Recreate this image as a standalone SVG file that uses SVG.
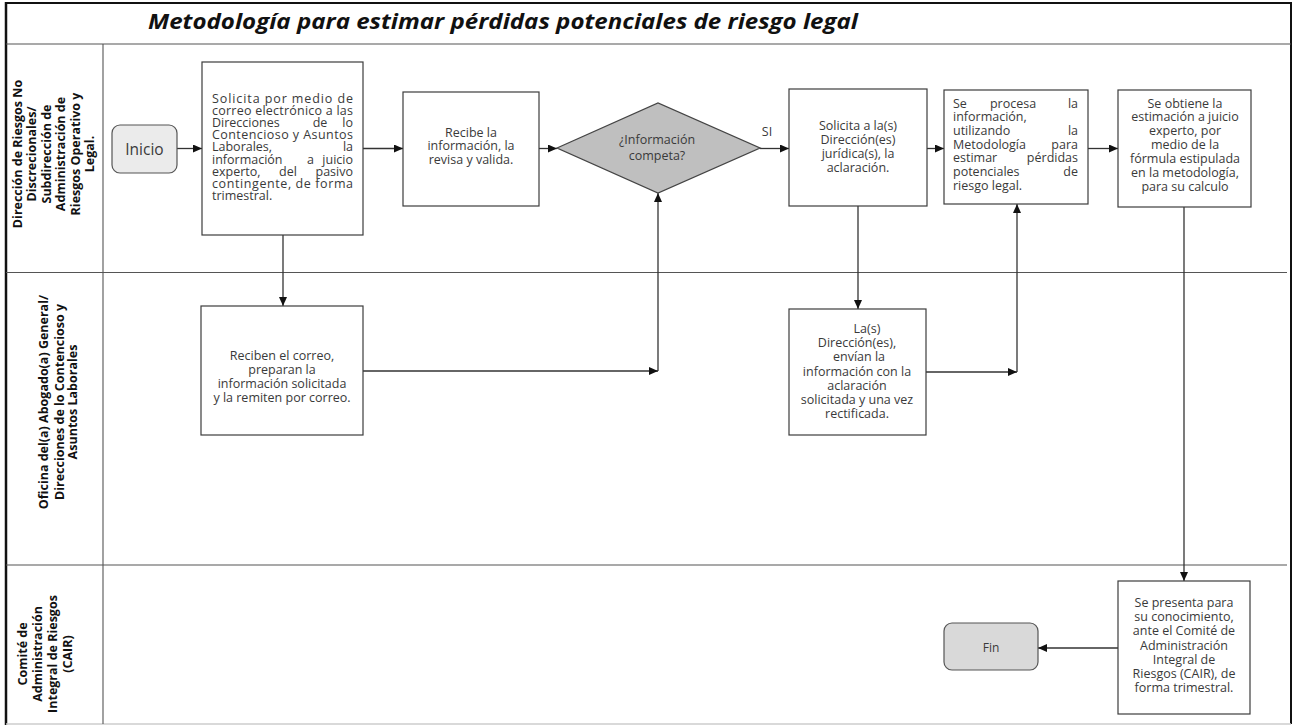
<svg xmlns="http://www.w3.org/2000/svg" width="1294" height="728" viewBox="0 0 1294 728">
<style>
.box{fill:#fff;stroke:#3c3c3c;stroke-width:1.2}
.t{font-family:"Open Sans","Liberation Sans",sans-serif;font-size:12.5px;fill:#3a3a3a}
.c{text-anchor:middle}
.e{text-anchor:end}
.lane{font-family:"Open Sans","Liberation Sans",sans-serif;font-weight:700;font-size:12.5px;fill:#111;text-anchor:middle}
.sep{stroke:#555;stroke-width:1.1;fill:none}
.conn{stroke:#333;stroke-width:1.3;fill:none;marker-end:url(#ah)}
</style>
<defs>
<marker id="ah" markerUnits="userSpaceOnUse" markerWidth="9" markerHeight="8" refX="9" refY="4" orient="auto">
<path d="M0,0 L9,4 L0,8 z" fill="#111"/>
</marker>
</defs>
<rect width="1294" height="728" fill="#fff"/>
<g id="frame">
<line x1="6" y1="3" x2="1291" y2="3" stroke="#111" stroke-width="2"/>
<line x1="6" y1="2" x2="6" y2="725" stroke="#111" stroke-width="2.5"/>
<line x1="1291" y1="2" x2="1291" y2="724" stroke="#111" stroke-width="2"/>
<line x1="6" y1="724" x2="1291" y2="724" stroke="#ccc" stroke-width="1.5"/>
<line class="sep" x1="6" y1="44" x2="1291" y2="44"/>
<line class="sep" x1="6" y1="272.5" x2="1287" y2="272.5"/>
<line class="sep" x1="6" y1="565" x2="1287" y2="565"/>
<line class="sep" x1="103" y1="44" x2="103" y2="724"/>
<text x="503" y="29" textLength="710" lengthAdjust="spacingAndGlyphs" style="font-family:'Open Sans','Liberation Sans',sans-serif;font-weight:700;font-style:italic;font-size:21px;fill:#111" text-anchor="middle">Metodología para estimar pérdidas potenciales de riesgo legal</text>
</g>
<g id="lane1">
<text class="lane" transform="translate(21.5,154) rotate(-90)">Dirección de Riesgos No</text>
<text class="lane" transform="translate(36,154) rotate(-90)">Discrecionales/</text>
<text class="lane" transform="translate(50.5,154) rotate(-90)">Subdirección de</text>
<text class="lane" transform="translate(65,154) rotate(-90)">Administración de</text>
<text class="lane" transform="translate(79.5,154) rotate(-90)">Riesgos Operativo y</text>
<text class="lane" transform="translate(94,154) rotate(-90)">Legal.</text>
</g>
<g id="lane2">
<text class="lane" transform="translate(48,402) rotate(-90)">Oficina del(a)  Abogado(a)  General/</text>
<text class="lane" transform="translate(63.5,402) rotate(-90)">Direcciones de  lo Contencioso y</text>
<text class="lane" transform="translate(77,402) rotate(-90)">Asuntos  Laborales</text>
</g>
<g id="lane3">
<text class="lane" transform="translate(26.5,654) rotate(-90)">Comité de</text>
<text class="lane" transform="translate(41.5,654) rotate(-90)">Administración</text>
<text class="lane" transform="translate(56.5,654) rotate(-90)">Integral de Riesgos</text>
<text class="lane" transform="translate(71.5,654) rotate(-90)">(CAIR)</text>
</g>
<g id="connectors">
<line class="conn" x1="177" y1="148.5" x2="202" y2="148.5"/>
<line class="conn" x1="363" y1="148.5" x2="403" y2="148.5"/>
<line class="conn" x1="539" y1="148.5" x2="557" y2="148.5"/>
<line class="conn" x1="760" y1="148.5" x2="789" y2="148.5"/>
<line class="conn" x1="927" y1="148.5" x2="944" y2="148.5"/>
<line class="conn" x1="1088" y1="148.5" x2="1118" y2="148.5"/>
<line class="conn" x1="283" y1="235" x2="283" y2="306"/>
<line class="conn" x1="363" y1="371" x2="658" y2="371"/>
<line class="conn" x1="658" y1="371" x2="658" y2="193"/>
<line class="conn" x1="858" y1="206" x2="858" y2="309"/>
<line class="conn" x1="926" y1="372" x2="1017" y2="372"/>
<line class="conn" x1="1017" y1="372" x2="1017" y2="204"/>
<line class="conn" x1="1184" y1="207" x2="1184" y2="581"/>
<line class="conn" x1="1118" y1="648" x2="1038" y2="648"/>
<text class="t" x="767" y="136" text-anchor="middle">SI</text>
</g>
<g id="inicio">
<rect x="112" y="125" width="65" height="48" rx="8" fill="#ebebeb" stroke="#555" stroke-width="1.2"/>
<text class="t c" x="144.5" y="154.5" style="font-size:15.5px">Inicio</text>
</g>
<g id="solicita-correo">
<rect class="box" x="202" y="62" width="161" height="173"/>
<text class="t" x="212" y="102.5" textLength="141" lengthAdjust="spacing">Solicita por medio de</text>
<text class="t" x="212" y="114.7" textLength="141" lengthAdjust="spacing">correo electrónico a las</text>
<text class="t" x="212" y="126.9">Direcciones</text><text class="t c" x="320" y="126.9">de</text><text class="t e" x="353" y="126.9">lo</text>
<text class="t" x="212" y="139.1" textLength="141" lengthAdjust="spacing">Contencioso y Asuntos</text>
<text class="t" x="212" y="151.3">Laborales,</text><text class="t e" x="353" y="151.3">la</text>
<text class="t" x="212" y="163.5">información</text><text class="t c" x="310.5" y="163.5">a</text><text class="t e" x="353" y="163.5">juicio</text>
<text class="t" x="212" y="175.7">experto,</text><text class="t c" x="288" y="175.7">del</text><text class="t e" x="353" y="175.7">pasivo</text>
<text class="t" x="212" y="187.9" textLength="141" lengthAdjust="spacing">contingente, de forma</text>
<text class="t" x="212" y="200.1">trimestral.</text>
</g>
<g id="recibe">
<rect class="box" x="403" y="92" width="136" height="114"/>
<text class="t c" x="471" y="137">Recibe la</text>
<text class="t c" x="471" y="150.3">información, la</text>
<text class="t c" x="471" y="163.6">revisa y valida.</text>
</g>
<g id="decision">
<polygon points="557,148 658,103 760,148 658,193" fill="#bfbfbf" stroke="#444" stroke-width="1.3"/>
<text class="t c" x="657" y="144">¿Información</text>
<text class="t c" x="657" y="160">competa?</text>
</g>
<g id="solicita-aclaracion">
<rect class="box" x="789" y="89" width="138" height="117"/>
<text class="t c" x="858" y="130">Solicita  a la(s)</text>
<text class="t c" x="858" y="144">Dirección(es)</text>
<text class="t c" x="858" y="158.3">jurídica(s), la</text>
<text class="t c" x="858" y="172.3">aclaración.</text>
</g>
<g id="procesa">
<rect class="box" x="944" y="90" width="144" height="114"/>
<text class="t" x="953" y="107.5">Se</text><text class="t c" x="1013" y="107.5">procesa</text><text class="t e" x="1078" y="107.5">la</text>
<text class="t" x="953" y="121.2">información,</text>
<text class="t" x="953" y="134.9">utilizando</text><text class="t e" x="1078" y="134.9">la</text>
<text class="t" x="953" y="148.6">Metodología</text><text class="t e" x="1078" y="148.6">para</text>
<text class="t" x="953" y="162.3">estimar</text><text class="t e" x="1078" y="162.3">pérdidas</text>
<text class="t" x="953" y="176">potenciales</text><text class="t e" x="1078" y="176">de</text>
<text class="t" x="953" y="189.7">riesgo legal.</text>
</g>
<g id="obtiene">
<rect class="box" x="1118" y="90" width="133" height="117"/>
<text class="t c" x="1185" y="107.5">Se obtiene la</text>
<text class="t c" x="1185" y="121.4">estimación a juicio</text>
<text class="t c" x="1185" y="135.3">experto, por</text>
<text class="t c" x="1185" y="149.2">medio de la</text>
<text class="t c" x="1185" y="163.1">fórmula estipulada</text>
<text class="t c" x="1185" y="177">en la metodología,</text>
<text class="t c" x="1185" y="190.9">para su calculo</text>
</g>
<g id="reciben">
<rect class="box" x="201" y="306" width="162" height="129"/>
<text class="t c" x="282" y="360">Reciben el correo,</text>
<text class="t c" x="282" y="374">preparan la</text>
<text class="t c" x="282" y="388">información solicitada</text>
<text class="t c" x="282" y="402">y la remiten por correo.</text>
</g>
<g id="envian">
<rect class="box" x="789" y="309" width="137" height="126"/>
<text class="t c" x="867" y="333">La(s)</text>
<text class="t c" x="857" y="347.2">Dirección(es),</text>
<text class="t c" x="859" y="361.4">envían  la</text>
<text class="t c" x="857" y="375.6">información con la</text>
<text class="t c" x="857" y="389.8">aclaración</text>
<text class="t c" x="857" y="404">solicitada y una vez</text>
<text class="t c" x="857" y="418.2">rectificada.</text>
</g>
<g id="presenta">
<rect class="box" x="1118" y="581" width="132" height="133"/>
<text class="t c" x="1184" y="607">Se presenta para</text>
<text class="t c" x="1184" y="621.2">su conocimiento,</text>
<text class="t c" x="1184" y="635.4">ante el Comité de</text>
<text class="t c" x="1184" y="649.6">Administración</text>
<text class="t c" x="1184" y="663.8">Integral de</text>
<text class="t c" x="1184" y="678">Riesgos (CAIR), de</text>
<text class="t c" x="1184" y="692.2">forma trimestral.</text>
</g>
<g id="fin">
<rect x="944" y="623" width="94" height="47" rx="8" fill="#d9d9d9" stroke="#555" stroke-width="1.2"/>
<text class="t c" x="991" y="651.5" style="font-size:12px">Fin</text>
</g>
</svg>
